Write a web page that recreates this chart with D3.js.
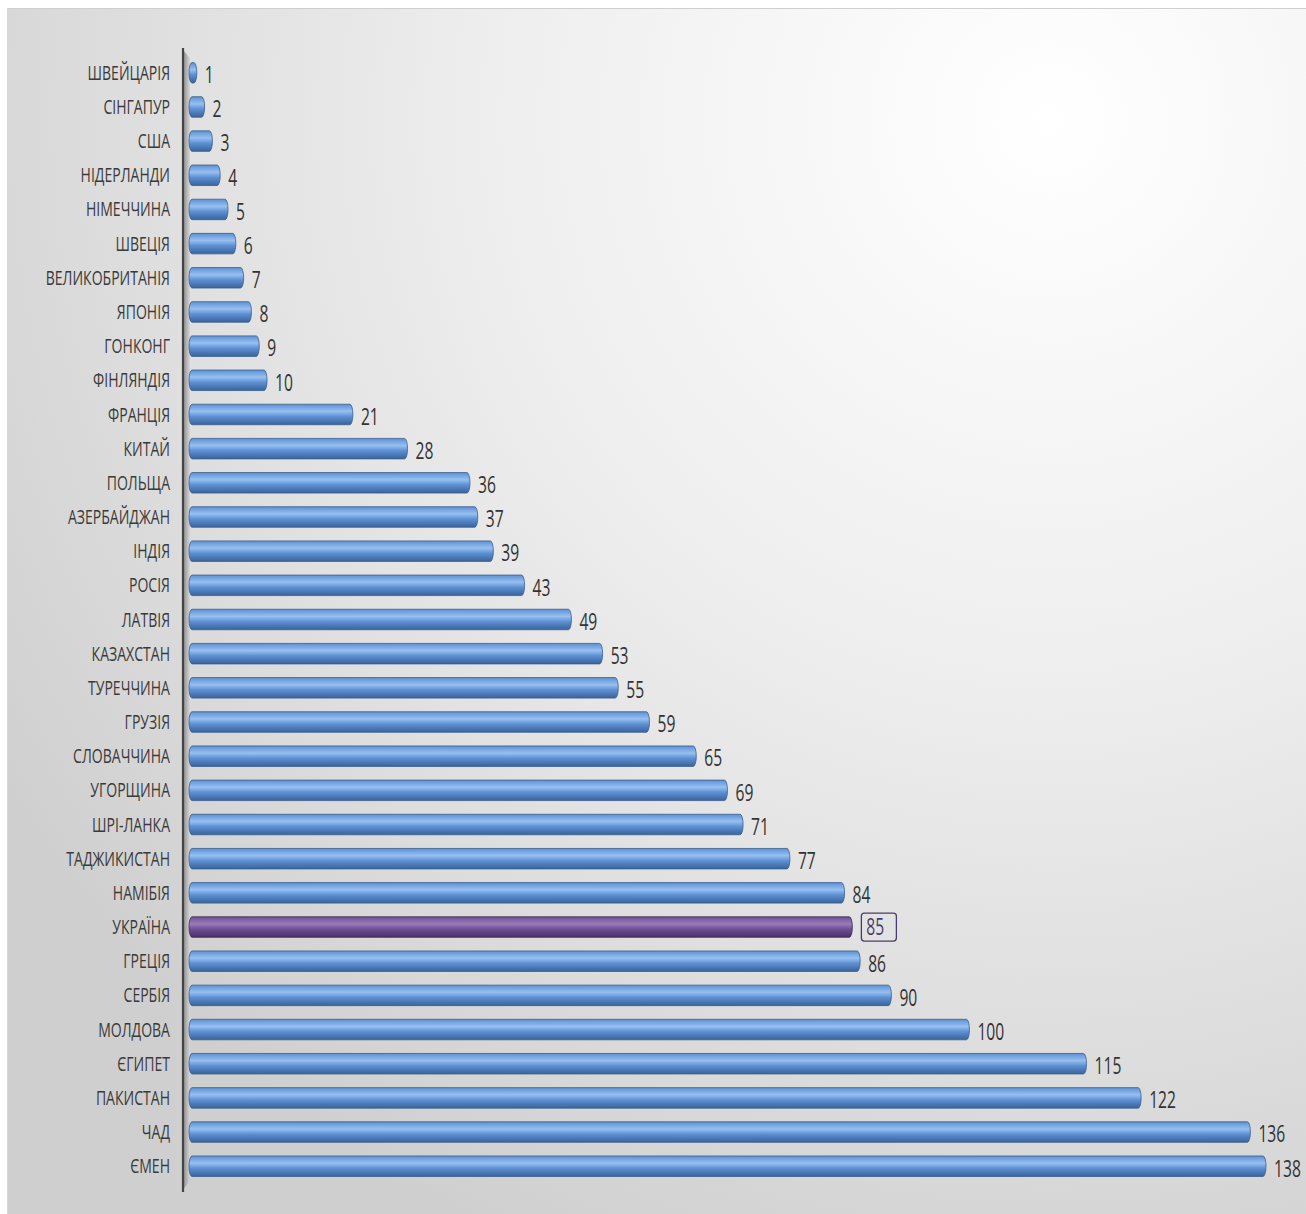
<!DOCTYPE html>
<html><head><meta charset="utf-8">
<script src="https://cdn.jsdelivr.net/npm/d3@7"></script>
<style>body{margin:0;background:#fff}svg{display:block}</style>
</head><body>
<svg id="c" width="1306" height="1214"></svg>
<script>
const countries = ["ШВЕЙЦАРІЯ","СІНГАПУР","США","НІДЕРЛАНДИ","НІМЕЧЧИНА","ШВЕЦІЯ","ВЕЛИКОБРИТАНІЯ","ЯПОНІЯ","ГОНКОНГ","ФІНЛЯНДІЯ","ФРАНЦІЯ","КИТАЙ","ПОЛЬЩА","АЗЕРБАЙДЖАН","ІНДІЯ","РОСІЯ","ЛАТВІЯ","КАЗАХСТАН","ТУРЕЧЧИНА","ГРУЗІЯ","СЛОВАЧЧИНА","УГОРЩИНА","ШРІ-ЛАНКА","ТАДЖИКИСТАН","НАМІБІЯ","УКРАЇНА","ГРЕЦІЯ","СЕРБІЯ","МОЛДОВА","ЄГИПЕТ","ПАКИСТАН","ЧАД","ЄМЕН"];
const ranks = [1,2,3,4,5,6,7,8,9,10,21,28,36,37,39,43,49,53,55,59,65,69,71,77,84,85,86,90,100,115,122,136,138];
const highlight = "УКРАЇНА";

const svg = d3.select("#c");
const defs = svg.append("defs");
const bg = defs.append("radialGradient").attr("id","bg").attr("gradientUnits","userSpaceOnUse")
  .attr("cx",1050).attr("cy",120).attr("r",1250);
bg.append("stop").attr("offset","0").attr("stop-color","#ffffff");
bg.append("stop").attr("offset","0.45").attr("stop-color","#eeeeee");
bg.append("stop").attr("offset","1").attr("stop-color","#cfcfcf");

function barGrad(id, dark, light, mid){
  const g = defs.append("linearGradient").attr("id",id).attr("x1",0).attr("y1",0).attr("x2",0).attr("y2",1);
  g.append("stop").attr("offset","0").attr("stop-color",mid);
  g.append("stop").attr("offset","0.35").attr("stop-color",light);
  g.append("stop").attr("offset","0.6").attr("stop-color",mid);
  g.append("stop").attr("offset","1").attr("stop-color",dark);
}
barGrad("gb","#3a6399","#97c0f0","#5d90d4");
barGrad("gp","#4a2f66","#9a7cbc","#6f4f93");

const wall = defs.append("linearGradient").attr("id","wall").attr("x1",0).attr("x2",1).attr("y1",0).attr("y2",0);
wall.append("stop").attr("offset","0").attr("stop-color","#8a8a8a");
wall.append("stop").attr("offset","1").attr("stop-color","#d8d8d8");

// background
svg.append("rect").attr("x",7).attr("y",8).attr("width",1299).attr("height",1206).attr("fill","url(#bg)");
svg.append("line").attr("x1",7).attr("x2",1306).attr("y1",8.5).attr("y2",8.5).attr("stroke","#cfcfcf");
svg.append("line").attr("x1",7.5).attr("x2",7.5).attr("y1",8).attr("y2",1214).attr("stroke","#d8d8d8");

const x0 = 189;
const x = d3.scaleLinear().domain([0,138]).range([x0,1266]);
const y = d3.scaleBand().domain(countries).range([55,1184]).paddingInner(0.4).paddingOuter(0.22);

// 3D wall
svg.append("path").attr("d",`M183,50 L190,58 L190,1180 L183,1190 Z`).attr("fill","url(#wall)");
svg.append("line").attr("x1",183).attr("x2",183).attr("y1",48).attr("y2",1192).attr("stroke","#444").attr("stroke-width",2.2);

const fontF = "'Open Sans','Liberation Sans',sans-serif";
const sxL = 0.72, sxV = 0.68;

const yAxis = d3.axisLeft(y).tickSize(0).tickPadding(13);
const ga = svg.append("g").attr("transform","translate(183,0)").call(yAxis);
ga.select(".domain").remove();
ga.selectAll("text").attr("font-family",fontF).attr("font-size",19.5).attr("fill","#3a3a3a")
  .attr("dy","0.36em").attr("x",-13/sxL).attr("transform",`scale(${sxL},1)`);

const rows = countries.map((c,i)=>({c, v:ranks[i]}));
const bh = y.bandwidth();
svg.selectAll("rect.bar").data(rows).join("rect").attr("class","bar")
  .attr("x",x0).attr("y",d=>y(d.c)).attr("width",d=>x(d.v)-x0).attr("height",bh)
  .attr("rx",3).attr("ry",bh/2)
  .attr("fill",d=>d.c===highlight?"url(#gp)":"url(#gb)")
  .attr("stroke",d=>d.c===highlight?"#3d2a55":"#3a5e8e").attr("stroke-width",0.8);

svg.selectAll("text.val").data(rows).join("text").attr("class","val")
  .attr("transform",d=>`translate(${x(d.v)+(d.c===highlight?14:8)},${y(d.c)+bh/2+(d.c===highlight?0:2)}) scale(${sxV},1)`)
  .attr("dy","0.36em")
  .attr("font-family",fontF).attr("font-size",23)
  .attr("fill",d=>d.c===highlight?"#4a3d6e":"#333")
  .text(d=>d.v);

// box around highlight label
const hl = rows.find(d=>d.c===highlight);
const hx = x(hl.v), hy = y(hl.c)+bh/2;
svg.append("rect").attr("x",hx+9).attr("y",hy-14).attr("width",35).attr("height",28).attr("rx",3)
  .attr("fill","none").attr("stroke","#4a3d6e").attr("stroke-width",1.3);
</script>
</body></html>
